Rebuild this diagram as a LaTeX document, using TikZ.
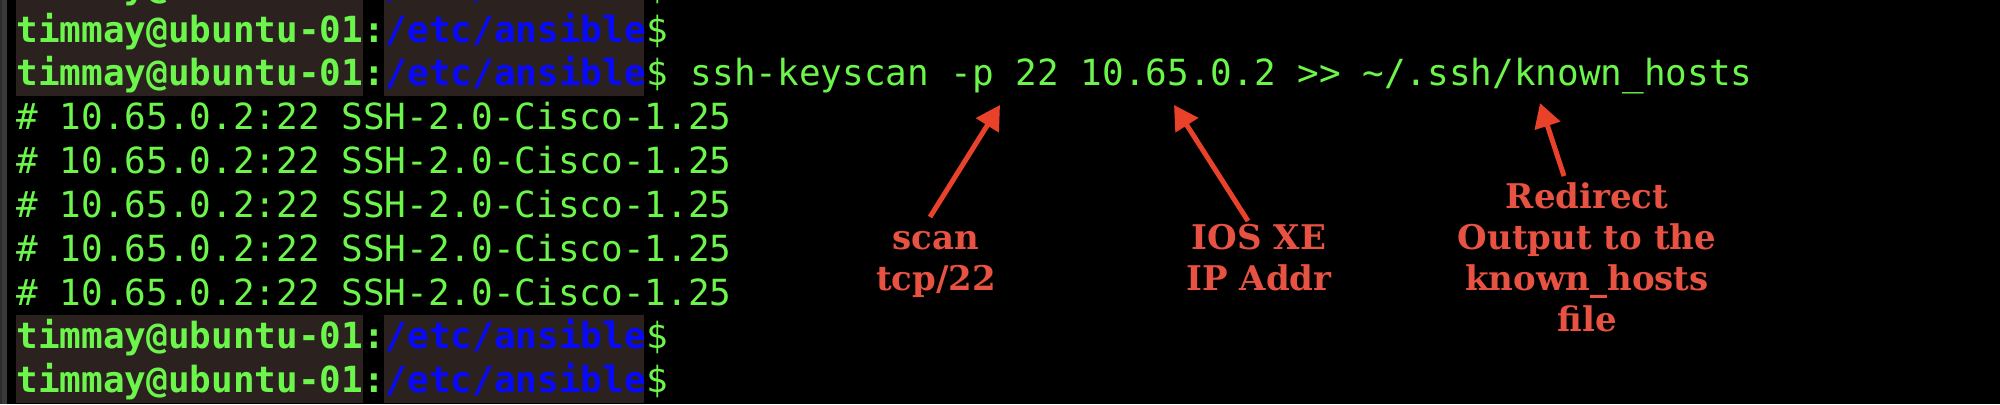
\documentclass[tikz,border=0pt]{standalone}
\usepackage{fontspec}
\usetikzlibrary{arrows.meta}
\usetikzlibrary{calc}
\newfontfamily\termfont[Ligatures=TeXOff]{DejaVu Sans Mono}
\newfontfamily\notefont{DejaVu Serif}
\definecolor{termgreen}{RGB}{108,245,75}
\definecolor{termblue}{RGB}{8,8,250}
\definecolor{termbrown}{RGB}{43,33,31}
\definecolor{notered}{RGB}{232,82,66}
\definecolor{arrowred}{RGB}{234,66,42}
\definecolor{bargray}{RGB}{58,58,58}
\definecolor{bardark}{RGB}{44,44,44}
\begin{document}
\begin{tikzpicture}[x=0.5pt,y=-0.5pt]
  \tikzset{
    termtext/.style={anchor=base west, inner sep=0, text=termgreen, font=\termfont\fontsize{18pt}{22pt}\selectfont},
    prompttext/.style={termtext, font=\termfont\bfseries\fontsize{18pt}{22pt}\selectfont},
    promptbg/.style={fill=termbrown, draw=none},
    note/.style={anchor=base, align=center, inner sep=0, text=notered, font=\notefont\bfseries\fontsize{17pt}{20.5pt}\selectfont},
    callout/.style={-{Triangle[length=12pt,width=13pt]}, line width=2.5pt, draw=arrowred},
  }
  \useasboundingbox (0,0) rectangle (2000,404);
  \fill[black] (0,0) rectangle (2000,404);
  \clip (0,0) rectangle (2000,404);
  \fill[bargray] (0,0) rectangle (7,404);
  \fill[bardark] (0,0) rectangle (2,404);

  \foreach \r in {0,1,2,8,9} {
    \pgfmathsetmacro\b{-1.85+43.85*\r}
    \fill[promptbg] (16,\b-33.6) rectangle (362.7,\b+10.3);
    \fill[promptbg] (384.4,\b-33.6) rectangle (644.4,\b+10.3);
    \node[prompttext] (user\r) at (16,\b) {timmay@ubuntu-01:};
    \node[prompttext, text=termblue] (path\r) at (user\r.base east) {/etc/ansible};
    \node[termtext] (dollar\r) at (path\r.base east) {\$};
  }
  \node[termtext] (cmd) at (dollar2.base east) {\ ssh-keyscan -p 22 10.65.0.2 >> \string~/.ssh/known\_hosts};
  \foreach \r in {3,...,7} {
    \pgfmathsetmacro\b{-1.85+43.85*\r}
    \node[termtext] (key\r) at (16,\b) {\# 10.65.0.2:22 SSH-2.0-Cisco-1.25};
  }

  \node[note] (scanlbl) at (936,290) {scan\\tcp/22};
  \node[note] (ioslbl) at (1259,290) {IOS XE\\IP Addr};
  \node[note] (redirlbl) at (1587,331) {Redirect\\Output to the\\known\_hosts\\file};

  \coordinate (scantip) at (1000,105);
  \coordinate (iptip) at (1174,105);
  \coordinate (filetip) at (1540,103);
  \draw[callout] ($(scanlbl.base)+(-6,-73)$) -- (scantip);
  \draw[callout] ($(ioslbl.base)+(-11,-69)$) -- (iptip);
  \draw[callout] ($(redirlbl.base)+(-23,-155)$) -- (filetip);
\end{tikzpicture}
\end{document}
